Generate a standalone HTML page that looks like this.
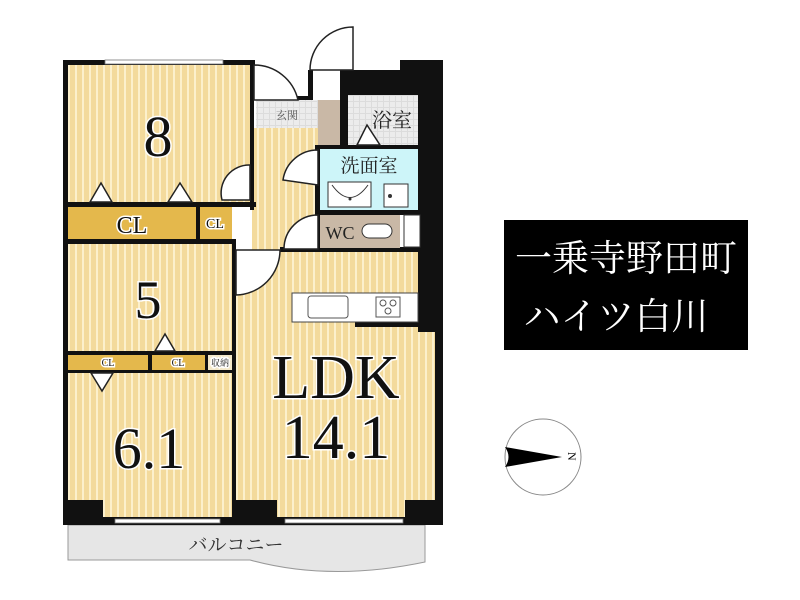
<!DOCTYPE html>
<html><head><meta charset="utf-8"><style>
html,body{margin:0;padding:0;background:#fff;width:800px;height:600px;overflow:hidden}
svg{display:block}
</style></head><body>
<svg width="800" height="600" viewBox="0 0 800 600" xmlns="http://www.w3.org/2000/svg">
<defs>
<pattern id="st" width="7" height="10" patternUnits="userSpaceOnUse">
<rect width="7" height="10" fill="#f3da9c"/><rect x="5" width="2" height="10" fill="#fcf0cc"/>
</pattern>
<pattern id="tile" width="6" height="6" patternUnits="userSpaceOnUse">
<rect width="6" height="6" fill="#dcdcdc"/><rect width="5" height="5" fill="#ececec"/>
</pattern>
</defs>
<!-- balcony -->
<path d="M68,525 L425,525 L425,562 Q330,582 250,560 L68,560 Z" fill="#e6e6e6" stroke="#999" stroke-width="1"/>
<text x="236" y="551" font-family="Liberation Serif,'Noto Serif CJK SC',serif" font-size="19" fill="#333" text-anchor="middle">バルコニー</text>
<!-- rooms -->
<rect x="68" y="62" width="184" height="143" fill="url(#st)"/>
<rect x="252" y="128" width="68" height="122" fill="url(#st)"/>
<rect x="68" y="243" width="166" height="110" fill="url(#st)"/>
<rect x="68" y="372" width="166" height="148" fill="url(#st)"/>
<rect x="236" y="250" width="200" height="270" fill="url(#st)"/>
<!-- CL -->
<rect x="68" y="206" width="128" height="33" fill="#e4b84c"/>
<rect x="200" y="206" width="32" height="33" fill="#e4b84c"/>
<rect x="68" y="355" width="80" height="15" fill="#e4b84c"/>
<rect x="152" y="355" width="53" height="15" fill="#e4b84c"/>
<rect x="208" y="355" width="24" height="15" fill="#f4e8c8"/>
<!-- walls -->
<g fill="#111">
<rect x="63" y="62" width="5" height="463"/>
<rect x="63" y="60" width="192" height="5"/>
<rect x="250" y="60" width="4" height="150"/>
<rect x="63" y="202" width="193" height="5"/>
<rect x="196" y="202" width="4" height="38"/>
<rect x="63" y="239" width="172" height="5"/>
<rect x="232" y="239" width="4" height="285"/>
<rect x="63" y="351" width="172" height="4"/>
<rect x="148" y="351" width="4" height="21"/>
<rect x="205" y="351" width="3" height="21"/>
<rect x="63" y="370" width="172" height="3"/>
<rect x="63" y="517" width="380" height="8"/>
<rect x="63" y="500" width="40" height="25"/>
<rect x="232" y="500" width="45" height="25"/>
<rect x="405" y="500" width="38" height="25"/>
<rect x="280" y="247" width="142" height="5"/>
<rect x="418" y="60" width="25" height="272"/>
<rect x="435" y="330" width="8" height="195"/>
<rect x="400" y="60" width="43" height="35"/>
<rect x="340" y="70" width="65" height="25"/>
<rect x="340" y="70" width="8" height="80"/>
<rect x="308" y="70" width="5" height="30"/>
<rect x="252" y="96" width="60" height="4"/>
<rect x="315" y="145" width="123" height="4"/>
<rect x="315" y="145" width="5" height="105"/>
<rect x="315" y="210" width="123" height="5"/>
<rect x="355" y="322" width="65" height="5"/>
</g>
<!-- windows -->
<rect x="105" y="60" width="118" height="4" fill="#fff" stroke="#777" stroke-width="0.8"/>
<rect x="115" y="519" width="105" height="4" fill="#fff" stroke="#777" stroke-width="0.8"/>
<rect x="285" y="519" width="118" height="4" fill="#fff" stroke="#777" stroke-width="0.8"/>
<!-- wet areas -->
<rect x="256" y="100" width="62" height="28" fill="url(#tile)"/>
<text x="287" y="119" font-family="Liberation Serif,'Noto Serif CJK SC',serif" font-size="11" fill="#555" text-anchor="middle">玄関</text>
<rect x="318" y="100" width="22" height="45" fill="#c9b8a6"/>
<rect x="348" y="95" width="70" height="50" fill="url(#tile)"/>
<text x="392" y="127" font-family="Liberation Serif,'Noto Serif CJK SC',serif" font-size="20" fill="#222" text-anchor="middle">浴室</text>
<path d="M357,145 L367,125 L380,145 Z" fill="#fff" stroke="#222" stroke-width="1.5"/>
<rect x="320" y="149" width="98" height="61" fill="#cdf5f9"/>
<text x="369" y="172" font-family="Liberation Serif,'Noto Serif CJK SC',serif" font-size="19" fill="#222" text-anchor="middle">洗面室</text>
<rect x="328" y="182" width="43" height="25" fill="#fff" stroke="#333"/>
<path d="M332,185 Q350,210 368,185" fill="none" stroke="#333"/>
<circle cx="350" cy="199" r="1.5" fill="#333"/>
<rect x="384" y="184" width="24" height="23" fill="#fff" stroke="#333"/>
<circle cx="390" cy="196" r="2" fill="#333"/>
<rect x="320" y="215" width="80" height="33" fill="#c9b8a6"/>
<rect x="404" y="215" width="16" height="32" fill="#fff" stroke="#333"/>
<text x="340" y="239" font-family="Liberation Serif,serif" font-size="18" fill="#222" text-anchor="middle">WC</text>
<rect x="362" y="224" width="30" height="14" rx="7" fill="#fff" stroke="#333"/>
<!-- doors -->
<g fill="#fff" stroke="#222" stroke-width="1.5">
<path d="M310,70 A43,43 0 0 1 353,27 L353,70 Z"/>
<path d="M254,65 A45,45 0 0 1 298,100 L254,100 Z"/>
<path d="M318,150 A35,35 0 0 0 283,180 L318,185 Z"/>
<path d="M250,165 A28,28 0 0 0 222,200 L250,200 Z"/>
<path d="M318,215 A34,34 0 0 0 284,249 L318,249 Z"/>
<path d="M236,250 L280,250 A45,45 0 0 1 236,295 Z"/>
<path d="M90,202 L101,183 L112,202 Z"/>
<path d="M168,202 L180,183 L192,202 Z"/>
<path d="M155,351 L165,334 L175,351 Z"/>
<path d="M91,373 L102,391 L113,373 Z"/>
</g>
<!-- kitchen -->
<rect x="292" y="293" width="126" height="29" fill="#fff" stroke="#444"/>
<rect x="308" y="296" width="40" height="22" rx="3" fill="#fff" stroke="#555"/>
<rect x="376" y="297" width="24" height="20" fill="#fff" stroke="#555"/>
<circle cx="383" cy="303" r="3" fill="none" stroke="#555"/><circle cx="393" cy="303" r="3" fill="none" stroke="#555"/><circle cx="388" cy="311" r="3" fill="none" stroke="#555"/>
<!-- labels -->
<g font-family="Liberation Serif,'Noto Serif CJK SC',serif" fill="#111" stroke="#fff" stroke-width="3" paint-order="stroke" text-anchor="middle">
<text x="158" y="156" font-size="58">8</text>
<text x="148" y="318" font-size="54">5</text>
<text x="149" y="468" font-size="58">6.1</text>
<text x="336" y="398" font-size="62">LDK</text>
<text x="336" y="458" font-size="62">14.1</text>
<text x="132" y="233" font-size="24">CL</text>
<text x="215" y="228" font-size="14">CL</text>
<text x="108" y="366" font-size="10">CL</text>
<text x="178" y="366" font-size="10">CL</text>
<text x="220" y="366" font-size="9">収納</text>
</g>
<!-- title -->
<rect x="504" y="220" width="244" height="130" fill="#000"/>
<g font-family="Liberation Serif,'Noto Serif CJK SC',serif" fill="#fff" font-size="37" text-anchor="middle">
<text x="626" y="271">一乗寺野田町</text>
<text x="616" y="329">ハイツ白川</text>
</g>
<!-- compass -->
<circle cx="543" cy="457" r="38" fill="#fff" stroke="#888"/>
<path d="M505,447 L562,457 L505,467 Q512,457 505,447 Z" fill="#000"/>
<text x="0" y="0" font-family="Liberation Serif,serif" font-size="12" fill="#000" transform="translate(568,452) rotate(90)">N</text>
</svg>
</body></html>
